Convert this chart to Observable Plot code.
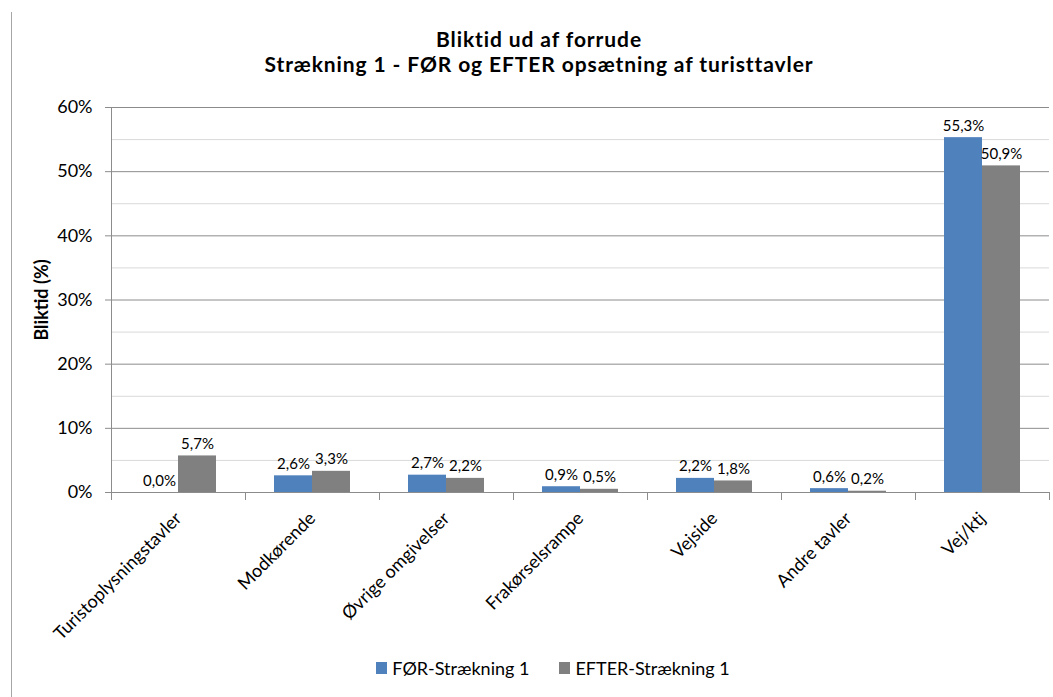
<!DOCTYPE html>
<html>
<head>
<meta charset="utf-8">
<script src="https://cdn.jsdelivr.net/npm/d3@7"></script>
<script src="https://cdn.jsdelivr.net/npm/@observablehq/plot@0.6"></script>
<style>
  body { margin: 0; background: #fff; font-family: Lato, "Open Sans", sans-serif; }
  #wrap { position: relative; width: 1053px; height: 697px; overflow: hidden; background: #fff; }
  #title { position: absolute; left: 0; top: 26px; width: 1078px; text-align: center;
           font-weight: bold; font-size: 21px; line-height: 25px; letter-spacing: 0.9px; color: #000; }
  #chart { position: absolute; left: 0; top: 90px; }
  #border { position: absolute; left: 11px; top: 12px; width: 0; height: 700px; border-left: 1px solid #a6a6a6; }
  #legend { position: absolute; left: 0; top: 657px; width: 1053px; display: flex; justify-content: center;
            gap: 30px; font-size: 18px; color: #000; padding-left: 53px; box-sizing: border-box; }
  #legend .item { display: flex; align-items: center; gap: 5px; }
  #legend .sw { width: 11px; height: 12px; display: inline-block; }
  g[aria-label="y-axis label"] text { font-weight: bold; }
</style>
</head>
<body>
<div id="wrap">
  <div id="title"><div>Bliktid ud af forrude</div><div>Strækning 1 - FØR og EFTER opsætning af turisttavler</div></div>
  <div id="chart"></div>
  <div id="legend"></div>
  <div id="border"></div>
</div>
<script>
// Glance-time categories and the two measurement periods
const categories = ["Turistoplysningstavler", "Modkørende", "Øvrige omgivelser", "Frakørselsrampe", "Vejside", "Andre tavler", "Vej/ktj"];
const series = ["FØR-Strækning 1", "EFTER-Strækning 1"];
const forValues = [0.0, 2.6, 2.7, 0.9, 2.2, 0.6, 55.3];
const efterValues = [5.7, 3.3, 2.2, 0.5, 1.8, 0.2, 50.9];
const seriesColors = ["#4F81BD", "#808080"];
const majorTicks = [0, 10, 20, 30, 40, 50, 60];
const minorTicks = [5, 15, 25, 35, 45, 55];

const table = categories.flatMap((c, i) => [
  {category: c, series: series[0], value: forValues[i]},
  {category: c, series: series[1], value: efterValues[i]}
]);

const fmt = v => v.toFixed(1).replace(".", ",") + "%";

const W = 1053, H = 562, mT = 17, mB = 160, mL = 111, mR = 4;
const plotH = H - mT - mB;
const axisGray = "#8c8c8c";

const chart = Plot.plot({
  width: W, height: H,
  marginTop: mT, marginBottom: mB, marginLeft: mL, marginRight: mR,
  style: {fontFamily: "Lato, sans-serif", fontSize: "18px", color: "#000", background: "transparent"},
  fx: {domain: categories, padding: 0, label: null},
  x: {domain: series, paddingInner: 0, paddingOuter: 0.763, round: false, axis: null},
  y: {domain: [0, 60]},
  color: {domain: series, range: seriesColors},
  marks: [
    Plot.ruleY(minorTicks, {stroke: "#d9d9d9"}),
    Plot.ruleY(majorTicks.slice(1), {stroke: axisGray}),
    Plot.barY(table, {fx: "category", x: "series", y: "value", fill: "series"}),
    Plot.text(table, {fx: "category", x: "series", y: "value", text: d => fmt(d.value),
                      lineAnchor: "bottom", dy: -7, fontSize: 15}),
    Plot.ruleY([0], {stroke: axisGray}),
    // category boundary ticks below the baseline
    Plot.frame({anchor: "left", stroke: axisGray, insetTop: plotH, insetBottom: -7}),
    Plot.frame({anchor: "right", stroke: axisGray, insetTop: plotH, insetBottom: -7}),
    // vertical axis line on the first category only
    Plot.frame({anchor: "left", stroke: axisGray, fx: () => categories[0]}),
    Plot.axisY({ticks: majorTicks, tickFormat: d => d + "%", tickSize: 6, tickPadding: 13,
                stroke: axisGray, label: "Bliktid (%)", labelAnchor: "center", labelArrow: "none",
                labelOffset: 76}),
    Plot.axisFx({anchor: "bottom", tickRotate: -45, tickSize: 0, tickPadding: 18, dy: 5,
                 label: null, fontSize: 18})
  ]
});
document.getElementById("chart").appendChild(chart);

// Legend below the chart
const legend = document.getElementById("legend");
series.forEach((s, i) => {
  const item = document.createElement("div");
  item.className = "item";
  const sw = document.createElement("span");
  sw.className = "sw";
  sw.style.background = seriesColors[i];
  const label = document.createElement("span");
  label.textContent = s;
  item.append(sw, label);
  legend.appendChild(item);
});
</script>
</body>
</html>
